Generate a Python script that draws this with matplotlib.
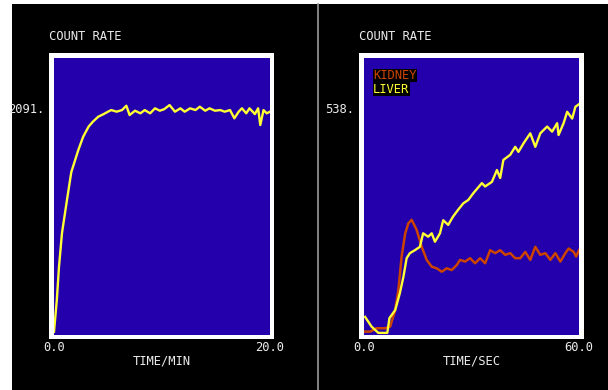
import matplotlib.pyplot as plt
from matplotlib.patches import Rectangle
from matplotlib.lines import Line2D

# Left panel: count rate vs time (minutes)
t_min = [0.0, 0.26, 0.46, 0.74, 1.2, 1.6, 2.25, 2.7, 3.2, 3.6, 4.1, 4.6, 5.0, 5.3,
         5.8, 6.3, 6.7, 7.0, 7.5, 8.0, 8.4, 8.9, 9.35, 9.8, 10.2, 10.7, 11.2, 11.7,
         12.1, 12.6, 13.1, 13.5, 14.0, 14.4, 14.9, 15.4, 15.8, 16.3, 16.7, 17.1,
         17.4, 17.8, 18.1, 18.6, 18.9, 19.1, 19.4, 19.7, 20.0]
rate_min = [30, 322, 626, 940, 1243, 1500, 1704, 1826, 1919, 1965, 2011, 2035, 2057, 2072,
            2057, 2072, 2112, 2026, 2066, 2042, 2072, 2042, 2088, 2066, 2080, 2118, 2057, 2088,
            2057, 2088, 2072, 2103, 2066, 2088, 2066, 2072, 2057, 2072, 1996, 2057,
            2088, 2042, 2088, 2035, 2088, 1934, 2072, 2042, 2057]

# Right panel: kidney and liver vs time (seconds)
t_liver = [0.3, 2.1, 4.0, 6.5, 7.1, 8.7, 10.0, 11.0, 11.9, 12.8, 14.2, 15.6, 16.5, 17.9,
           18.9, 19.8, 21.2, 22.1, 23.5, 24.8, 26.2, 27.7, 29.1, 30.5, 32.9, 33.8, 35.7,
           37.1, 38.0, 38.9, 40.8, 42.2, 43.1, 44.5, 46.4, 47.8, 49.2, 51.1, 52.5, 53.9,
           54.3, 55.7, 56.7, 58.1, 59.0, 60.0]
liver = [43, 20, 5, 5, 40, 59, 99, 138, 182, 194, 201, 209, 241, 233,
         241, 221, 241, 272, 261, 280, 296, 312, 320, 336, 360, 352, 363,
         391, 372, 415, 427, 446, 434, 454, 478, 446, 478, 494, 482, 502,
         474, 502, 529, 513, 541, 547]

t_kidney = [0.3, 1.7, 3.5, 5.9, 7.3, 8.7, 9.6, 10.5, 11.5, 12.4, 13.3, 14.7, 16.1, 17.5,
            18.9, 20.3, 21.7, 23.1, 24.5, 25.9, 26.8, 28.2, 29.6, 31.0, 32.4, 33.8, 35.2,
            36.6, 38.0, 39.4, 40.8, 42.2, 43.6, 45.0, 46.4, 47.8, 49.2, 50.6, 52.0, 53.4,
            54.8, 56.2, 57.1, 58.5, 59.2, 60.0]
kidney = [8, 8, 16, 16, 20, 59, 107, 186, 241, 265, 273, 249, 209, 178,
          162, 158, 150, 158, 154, 166, 178, 174, 182, 170, 182, 170, 201,
          194, 201, 190, 194, 182, 182, 197, 178, 209, 190, 194, 178, 194,
          174, 194, 205, 197, 186, 201]

W, H = 608, 390
BLUE = '#2300ab'
YELLOW = '#ffff33'
RED = '#cc4400'
TXT = '#ececec'
FONT = 'DejaVu Sans Mono'
FS = 8.7

fig = plt.figure(figsize=(W / 100, H / 100), dpi=100)
fig.patch.set_facecolor('white')


def px(x0, y0, x1, y1):
    # pixel box (top-left origin) -> figure fraction
    return [x0 / W, 1 - y1 / H, (x1 - x0) / W, (y1 - y0) / H]


# black screen background and separator
fig.patches.append(Rectangle((12 / W, 0), 1, (H - 4) / H, transform=fig.transFigure,
                             facecolor='black', edgecolor='none', zorder=-3))
fig.lines.append(Line2D([317.5 / W, 317.5 / W], [0, (H - 4) / H], transform=fig.transFigure,
                        color='#9a9a9a', linewidth=1.2, zorder=-2))


def panel(inner, outer, xmax, ytick, ylab, xlab):
    ox0, oy0, ox1, oy1 = outer
    fig.patches.append(Rectangle((ox0 / W, 1 - oy1 / H), (ox1 - ox0) / W, (oy1 - oy0) / H,
                                 transform=fig.transFigure, facecolor='white',
                                 edgecolor='none', zorder=-1))
    ax = fig.add_axes(px(*inner))
    ax.set_facecolor(BLUE)
    for s in ax.spines.values():
        s.set_visible(False)
    ax.set_xlim(0, xmax)
    ax.set_ylim(0, ytick * 277 / 227)
    ax.set_xticks([0, xmax])
    ax.set_xticklabels(['0.0', f'{xmax:.1f}'], fontfamily=FONT, fontsize=FS, color=TXT)
    ax.set_yticks([ytick])
    ax.set_yticklabels([ylab], fontfamily=FONT, fontsize=FS, color=TXT)
    ax.tick_params(length=0)
    ax.tick_params(axis='x', pad=4.5)
    ax.tick_params(axis='y', pad=7)
    ax.set_xlabel(xlab, fontfamily=FONT, fontsize=FS, color=TXT, labelpad=0.5)
    fig.text(ox0 / W, 1 - 37 / H, 'COUNT RATE', fontfamily=FONT, fontsize=FS,
             color=TXT, ha='left', va='center')
    return ax


ax1 = panel((54, 58, 270, 335), (49, 53, 274, 339), 20, 2091, '2091.', 'TIME/MIN')
ax1.plot(t_min, rate_min, color=YELLOW, linewidth=1.7)

ax2 = panel((364, 58, 579, 335), (359, 53, 584, 339), 60, 538, '538.', 'TIME/SEC')
ax2.plot(t_kidney, kidney, color=RED, linewidth=1.8)
ax2.plot(t_liver, liver, color=YELLOW, linewidth=1.7)
ax2.text(0.042, 0.937, 'KIDNEY', transform=ax2.transAxes, color=RED, fontfamily=FONT,
         fontsize=FS, va='center', ha='left',
         bbox=dict(facecolor='black', edgecolor='none', pad=0.3))
ax2.text(0.042, 0.888, 'LIVER', transform=ax2.transAxes, color=YELLOW, fontfamily=FONT,
         fontsize=FS, va='center', ha='left',
         bbox=dict(facecolor='black', edgecolor='none', pad=0.3))

fig.savefig('out.png', dpi=100, facecolor=fig.get_facecolor())
